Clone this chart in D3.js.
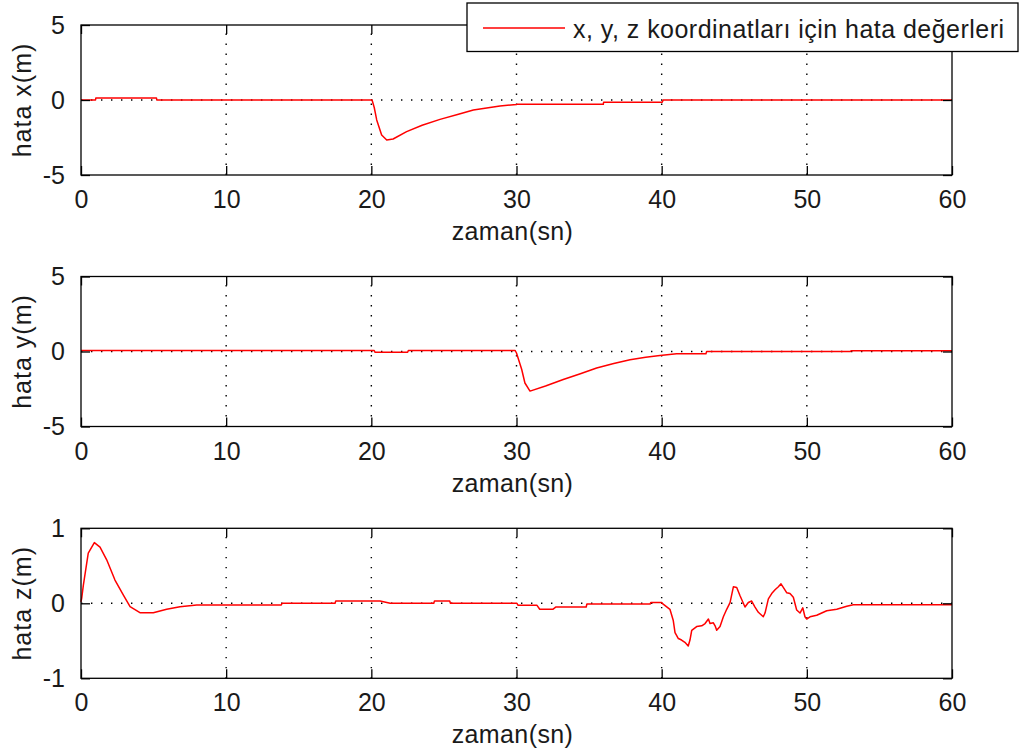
<!DOCTYPE html>
<html>
<head>
<meta charset="utf-8">
<script src="https://cdn.jsdelivr.net/npm/d3@7"></script>
<style>
html,body{margin:0;padding:0;background:#fff;}
svg text{font-family:"Liberation Sans",Arial,sans-serif;fill:#1a1a1a;}
</style>
</head>
<body>
<svg id="chart" width="1020" height="756"></svg>
<script>
// ---- data ----
const xTicks = [0, 10, 20, 30, 40, 50, 60];
const yTicksXY = [-5, 0, 5];
const yTicksZ = [-1, 0, 1];
const xLabel = "zaman(sn)";
const yLabels = ["hata x(m)", "hata y(m)", "hata z(m)"];
const legendLabel = "x, y, z koordinatları için hata değerleri";

const tErrX = [0, 1.0, 1.02, 5.2, 5.22, 20.05, 20.2, 20.37, 20.71, 21.06, 21.5, 22.43, 23.5, 24.73, 26.0, 27.03, 28.86, 30.0, 30.05, 35.98, 36.0, 40.04, 40.1, 60];
const vErrX = [0, 0, 0.13, 0.13, 0, 0, -0.5, -1.33, -2.33, -2.67, -2.6, -2.11, -1.68, -1.29, -0.95, -0.67, -0.4, -0.3, -0.29, -0.29, -0.15, -0.15, 0, 0];

const tErrY = [0, 20.2, 20.25, 22.5, 22.55, 29.9, 30.0, 30.36, 30.58, 30.93, 32.0, 33.22, 34.4, 35.52, 36.7, 37.82, 38.9, 39.88, 41.03, 43.05, 43.1, 53.0, 53.05, 60];
const vErrY = [0.07, 0.07, -0.05, -0.05, 0.07, 0.07, -0.1, -1.2, -2.1, -2.64, -2.3, -1.87, -1.48, -1.1, -0.8, -0.55, -0.38, -0.27, -0.15, -0.15, 0, 0, 0.05, 0.05];

const tErrZ = [0, 0.05, 0.16, 0.5, 0.92, 1.31, 1.77, 2.34, 2.92, 3.38, 4.06, 4.98, 5.9, 6.82, 7.97, 13.8, 13.85, 17.5, 17.55, 20.6, 21.3, 24.3, 24.35, 25.4, 25.45, 30.03, 30.1, 31.4, 31.6, 32.5, 32.7, 34.8, 34.85, 39.2, 39.25, 40.0,
  40.04, 40.57, 40.8, 40.92, 41.15, 41.37, 41.6, 41.83, 41.95, 42.07, 42.41, 42.76, 42.99, 43.22, 43.33, 43.56, 43.68, 43.79, 44.02, 44.25, 44.48, 44.71, 44.94, 45.17, 45.4, 45.74, 45.97, 46.2, 46.43, 46.66, 47.0, 47.12, 47.35, 47.58, 47.81, 48.04, 48.22, 48.39, 48.62, 48.84, 49.07, 49.3, 49.53, 49.72, 49.87, 49.99, 50.22, 50.68, 51.37, 52.06, 52.75, 53.2, 60];
const vErrZ = [0.02, 0.07, 0.24, 0.67, 0.81, 0.75, 0.58, 0.31, 0.11, -0.045, -0.125, -0.125, -0.08, -0.045, -0.023, -0.023, 0, 0, 0.03, 0.03, 0.0, 0.0, 0.03, 0.03, 0.0, 0.0, -0.025, -0.025, -0.08, -0.08, -0.05, -0.05, -0.01, -0.01, 0.01, 0.01,
  0, -0.08, -0.23, -0.39, -0.47, -0.49, -0.52, -0.57, -0.49, -0.36, -0.31, -0.3, -0.27, -0.21, -0.27, -0.26, -0.3, -0.36, -0.31, -0.18, -0.08, 0.01, 0.22, 0.21, 0.1, -0.05, 0.01, 0.03, -0.05, -0.12, -0.18, -0.13, 0.06, 0.13, 0.18, 0.22, 0.26, 0.21, 0.14, 0.13, 0.08, -0.09, -0.13, -0.06, -0.18, -0.21, -0.18, -0.16, -0.1, -0.08, -0.04, -0.02, -0.02];

// ---- layout ----
const svg = d3.select("#chart");
const left = 81, right = 952, plotH = 150;
const tops = [25, 276.5, 528.3];
const panels = [
  {t: tErrX, v: vErrX, dom: [-5, 5], ticks: yTicksXY, label: yLabels[0]},
  {t: tErrY, v: vErrY, dom: [-5, 5], ticks: yTicksXY, label: yLabels[1]},
  {t: tErrZ, v: vErrZ, dom: [-1, 1], ticks: yTicksZ, label: yLabels[2]}
];
const tickLen = 9;
const fs = 25;
const fmt = d => String(d);

panels.forEach((p, i) => {
  const top = tops[i], bottom = top + plotH;
  const x = d3.scaleLinear().domain([0, 60]).range([left, right]);
  const y = d3.scaleLinear().domain(p.dom).range([bottom, top]);
  const g = svg.append("g");

  // grid (dotted)
  xTicks.filter(d => d > 0 && d < 60).forEach(d => {
    g.append("line").attr("x1", x(d)).attr("x2", x(d)).attr("y1", bottom).attr("y2", top)
      .attr("stroke", "#000").attr("stroke-width", 1.4).attr("stroke-dasharray", "1.4,8.6");
  });
  p.ticks.filter(d => d !== p.dom[0] && d !== p.dom[1]).forEach(d => {
    g.append("line").attr("x1", left).attr("x2", right).attr("y1", y(d)).attr("y2", y(d))
      .attr("stroke", "#000").attr("stroke-width", 1.4).attr("stroke-dasharray", "1.4,8.6");
  });

  // data line
  const line = d3.line().x((d, k) => x(p.t[k])).y((d, k) => y(p.v[k]));
  g.append("path").datum(p.v).attr("d", line).attr("fill", "none")
    .attr("stroke", "#ff0000").attr("stroke-width", 1.5).attr("stroke-linejoin", "round");

  // axes with inner ticks on all sides
  const axB = d3.axisBottom(x).tickValues(xTicks).tickFormat(fmt).tickSizeInner(-tickLen).tickSizeOuter(0).tickPadding(tickLen + 6);
  const axT = d3.axisTop(x).tickValues(xTicks).tickSizeInner(-tickLen).tickSizeOuter(0).tickFormat("");
  const axL = d3.axisLeft(y).tickValues(p.ticks).tickFormat(fmt).tickSizeInner(-tickLen).tickSizeOuter(0).tickPadding(tickLen + 7);
  const axR = d3.axisRight(y).tickValues(p.ticks).tickSizeInner(-tickLen).tickSizeOuter(0).tickFormat("");
  const styleAx = sel => {
    sel.select(".domain").remove();
    sel.selectAll(".tick line").attr("stroke", "#000").attr("stroke-width", 1.3);
    sel.selectAll(".tick text").attr("font-size", fs).attr("fill", "#1a1a1a")
      .attr("font-family", '"Liberation Sans",Arial,sans-serif');
  };
  g.append("g").attr("transform", `translate(0,${bottom})`).call(axB).call(styleAx)
    .selectAll(".tick text").attr("dy", "0.72em");
  g.append("g").attr("transform", `translate(0,${top})`).call(axT).call(styleAx);
  g.append("g").attr("transform", `translate(${left},0)`).call(axL).call(styleAx);
  g.append("g").attr("transform", `translate(${right},0)`).call(axR).call(styleAx);

  // box
  g.append("rect").attr("x", left).attr("y", top).attr("width", right - left).attr("height", plotH)
    .attr("fill", "none").attr("stroke", "#000").attr("stroke-width", 1.3);

  // labels
  g.append("text").attr("x", (left + right) / 2 - 4).attr("y", bottom + 65)
    .attr("text-anchor", "middle").attr("font-size", fs).attr("letter-spacing", 0.4).text(xLabel);
  g.append("text").attr("transform", `translate(31,${(top + bottom) / 2}) rotate(-90)`)
    .attr("text-anchor", "middle").attr("font-size", fs).attr("letter-spacing", 1).text(p.label);
});

// legend
const lg = svg.append("g");
lg.append("rect").attr("x", 467).attr("y", 3).attr("width", 551).attr("height", 48.5)
  .attr("fill", "#fff").attr("stroke", "#000").attr("stroke-width", 1.3);
lg.append("line").attr("x1", 483).attr("x2", 565).attr("y1", 28).attr("y2", 28)
  .attr("stroke", "#ff0000").attr("stroke-width", 1.5);
lg.append("text").attr("x", 573).attr("y", 38).attr("font-size", fs)
  .attr("textLength", 431).attr("lengthAdjust", "spacing").text(legendLabel);
</script>
</body>
</html>
